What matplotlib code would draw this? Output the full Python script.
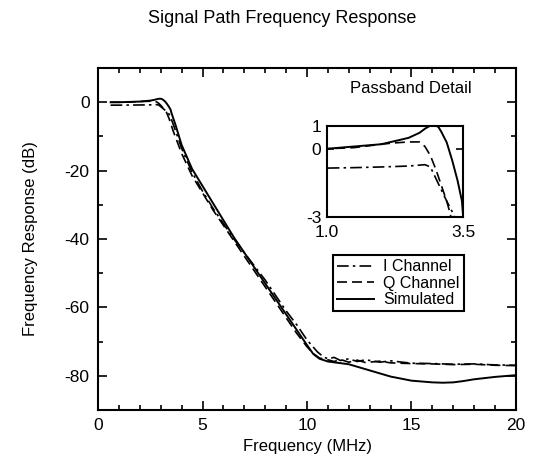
import matplotlib
matplotlib.use('Agg')
from matplotlib import pyplot as plt
from matplotlib.ticker import MultipleLocator

plt.rcParams['font.family'] = ['Liberation Sans', 'DejaVu Sans']
plt.rcParams['axes.unicode_minus'] = False

# frequency (MHz) and response (dB)
freq_sim = [0.6, 1.0, 1.5, 2.0, 2.5, 2.7, 2.8, 2.9, 3.0, 3.05, 3.1, 3.2, 3.3, 3.4, 3.48, 3.5, 3.7,
            4.0, 4.5, 5.0, 5.5, 6.0, 6.5, 7.0, 7.5, 8.0, 8.5, 9.0, 9.5, 10.0,
            10.3, 10.6, 11.0, 11.5, 12.0, 13.0, 14.0, 15.0, 16.0, 16.5, 17.0,
            17.5, 18.0, 19.0, 20.0]
db_sim = [0.0, 0.0, 0.1, 0.2, 0.48, 0.7, 0.88, 1.02, 1.02, 0.95, 0.75, 0.28, -0.5, -1.4, -2.3, -2.9, -6.5,
          -12.5, -19.5, -24.5, -29.5, -34.5, -39.5, -44.0, -48.5, -53.0, -57.5,
          -62.0, -66.5, -71.0, -73.6, -75.0, -75.8, -76.2, -76.6, -78.4, -80.2,
          -81.4, -81.9, -82.0, -81.9, -81.5, -81.0, -80.3, -79.8]

freq_q = [0.6, 1.0, 1.5, 2.0, 2.2, 2.5, 2.7, 2.8, 2.9, 3.0, 3.1, 3.2, 3.27, 3.4, 3.6,
          4.0, 4.5, 5.0, 5.5, 6.0, 6.5, 7.0, 7.5, 8.0, 8.5, 9.0, 9.5, 10.0,
          10.3, 10.6, 11.0, 11.3, 11.6, 12.0, 12.4, 12.8, 13.5, 14.0, 15.0,
          16.0, 17.0, 18.0, 19.0, 20.0]
db_q = [0.0, 0.0, 0.05, 0.2, 0.25, 0.3, 0.3, 0.1, -0.3, -0.9, -1.6, -2.3, -2.9, -4.8, -8.5,
        -15.0, -21.5, -26.5, -31.5, -36.0, -40.5, -45.0, -49.5, -54.0, -58.5,
        -63.0, -67.5, -71.5, -73.5, -74.8, -75.3, -75.8, -75.2, -76.0, -75.4,
        -76.1, -75.7, -76.2, -76.4, -76.5, -76.7, -76.6, -76.9, -77.0]

freq_i = [0.6, 1.0, 1.5, 2.0, 2.5, 2.8, 2.9, 3.0, 3.1, 3.2, 3.33, 3.45, 3.6,
          4.0, 4.5, 5.0, 5.5, 6.0, 6.5, 7.0, 7.5, 8.0, 8.5, 9.0, 9.5, 10.0,
          10.5, 10.8, 11.0, 11.3, 11.6, 12.0, 12.4, 12.8, 13.5, 14.0, 15.0,
          16.0, 17.0, 18.0, 19.0, 20.0]
db_i = [-0.85, -0.85, -0.83, -0.8, -0.76, -0.7, -0.8, -1.3, -1.8, -2.3, -2.9, -4.0, -6.5,
        -13.5, -20.5, -26.0, -31.0, -35.5, -40.0, -44.0, -48.0, -52.0, -56.5,
        -61.0, -65.0, -69.5, -73.0, -74.5, -75.0, -74.6, -75.5, -75.0, -75.8,
        -75.3, -76.0, -75.6, -76.3, -76.4, -76.6, -76.5, -76.8, -76.9]

dashdot = (0, (7, 2.5, 1.5, 2.5))
dashed = (0, (6, 3))

fig = plt.figure(figsize=(5.33, 4.66), dpi=100)
ax = fig.add_axes([0.184, 0.120, 0.784, 0.734])

ax.plot(freq_i, db_i, color='black', lw=1.2, linestyle=dashdot, label='I Channel')
ax.plot(freq_q, db_q, color='black', lw=1.2, linestyle=dashed, label='Q Channel')
ax.plot(freq_sim, db_sim, color='black', lw=1.4, label='Simulated')

ax.set_xlim(0, 20)
ax.set_ylim(-90, 10)
ax.xaxis.set_major_locator(MultipleLocator(5))
ax.xaxis.set_minor_locator(MultipleLocator(1))
ax.yaxis.set_major_locator(MultipleLocator(20))
ax.yaxis.set_minor_locator(MultipleLocator(10))
ax.tick_params(which='both', direction='in', top=True, right=True, width=1.2, labelsize=12.5)
ax.tick_params(which='major', length=6.5, pad=6)
ax.tick_params(which='minor', length=3.5)
for s in ax.spines.values():
    s.set_linewidth(1.5)
ax.set_xlabel('Frequency (MHz)', fontsize=12, labelpad=4)
ax.set_ylabel('Frequency Response (dB)', fontsize=12, labelpad=19)

leg = ax.legend(loc='upper left', bbox_to_anchor=(0.562, 0.453), fontsize=11.5, frameon=True,
                fancybox=False, handlelength=2.3, handletextpad=0.6, borderpad=0.25,
                labelspacing=0.1, borderaxespad=0, framealpha=1)
leg.get_frame().set_edgecolor('black')
leg.get_frame().set_linewidth(1.5)

fig.text(0.53, 0.96, 'Signal Path Frequency Response', ha='center', va='center', fontsize=13)

# passband detail inset
ins = fig.add_axes([0.6135, 0.5343, 0.2552, 0.1953])
ins.plot(freq_i, db_i, color='black', lw=1.2, linestyle=dashdot)
ins.plot(freq_q, db_q, color='black', lw=1.2, linestyle=dashed)
ins.plot(freq_sim, db_sim, color='black', lw=1.4)
ins.set_xlim(1.0, 3.5)
ins.set_ylim(-3, 1)
ins.set_xticks([1.0, 3.5])
ins.set_xticklabels(['1.0', '3.5'])
ins.set_yticks([-3, 0, 1])
ins.set_yticklabels(['-3', '0', '1'])
ins.tick_params(direction='in', right=True, length=5, width=1.2, labelsize=12.5, pad=4)
ins.tick_params(axis='x', pad=6)
for s in ins.spines.values():
    s.set_linewidth(1.5)
fig.text(0.77, 0.811, 'Passband Detail', ha='center', va='center', fontsize=12)

fig.savefig('out.png', dpi=100)
